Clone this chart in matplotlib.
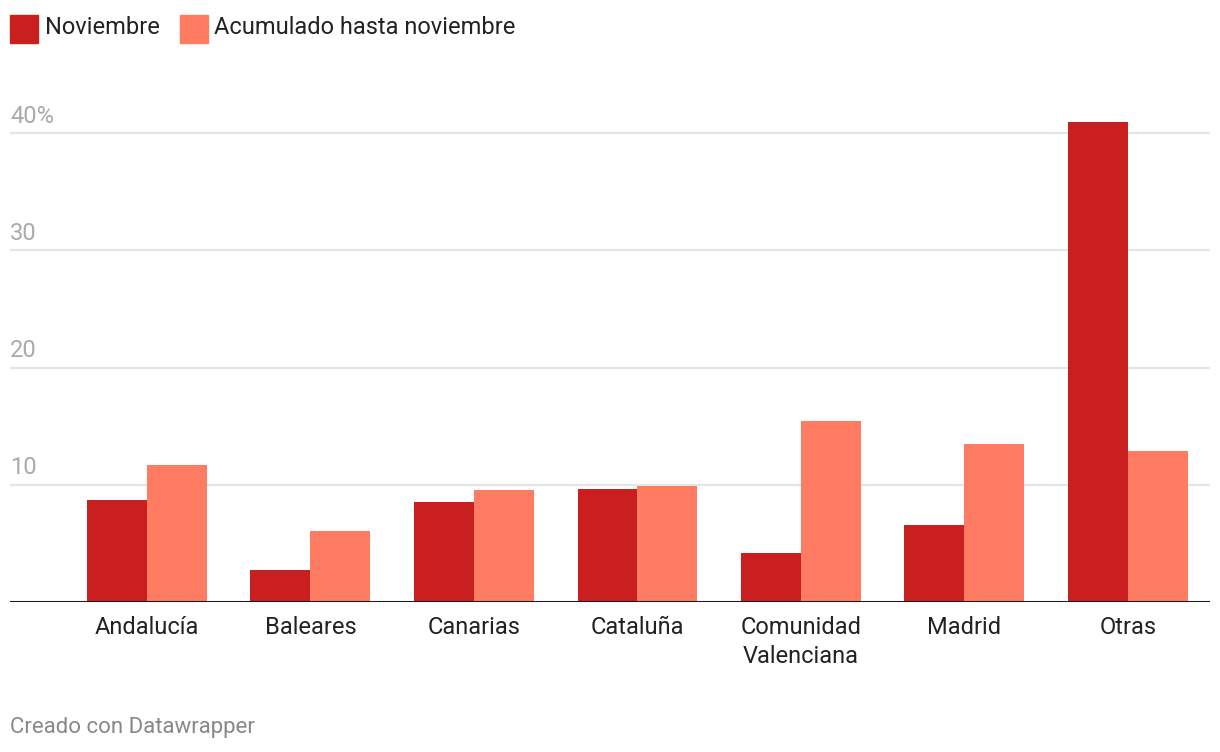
import matplotlib.pyplot as plt
import numpy as np

plt.rcParams['font.family'] = ['Roboto', 'DejaVu Sans']

categories = ["Andalucía", "Baleares", "Canarias", "Cataluña",
              "Comunidad\nValenciana", "Madrid", "Otras"]
noviembre = [8.67, 2.70, 8.50, 9.61, 4.15, 6.54, 40.9]
acumulado = [11.66, 6.03, 9.53, 9.87, 15.41, 13.45, 12.85]
ticks = [10, 20, 30, 40]
tick_labels = ["10", "20", "30", "40%"]

c_nov = "#c91f1f"
c_acu = "#ff7c63"

W, H = 1220, 752
fig = plt.figure(figsize=(W / 100, H / 100), dpi=100)

# axes: left x=10, right x=1210, baseline y=602, 11.725 px per unit
ymax = 42
ax = fig.add_axes([10 / W, (H - 602) / H, 1200 / W, ymax * 11.725 / H], frameon=False)
ax.set_ylim(0, ymax)
spacing = 163.5
ax.set_xlim((10 - 147) / spacing, (1210 - 147) / spacing)

x = np.arange(len(categories))
bw = 60 / spacing
ax.bar(x - bw / 2, noviembre, bw, color=c_nov, zorder=3)
ax.bar(x + bw / 2, acumulado, bw, color=c_acu, zorder=3)

for t, lab in zip(ticks, tick_labels):
    ax.axhline(t, color="#e5e5e5", lw=1.5, zorder=1)
    ax.text(0, t + 0.45, lab, transform=ax.get_yaxis_transform(), ha="left", va="bottom",
            color="#aaaaaa", fontsize=17)
ax.axhline(0, color="#1a1a1a", lw=2.2, zorder=4)

ax.set_xticks([])
ax.set_yticks([])
for xi, cat in zip(x, categories):
    ax.text(xi, -1.2, cat, ha="center", va="top", fontsize=17, color="#222222",
            linespacing=1.32)

# legend
fig.patches.append(plt.Rectangle((10 / W, 1 - 43 / H), 28 / W, 28 / H,
                                 transform=fig.transFigure, color=c_nov))
fig.text(45 / W, 1 - 27 / H, "Noviembre", fontsize=17, va="center", color="#222222")
fig.patches.append(plt.Rectangle((180 / W, 1 - 43 / H), 28 / W, 28 / H,
                                 transform=fig.transFigure, color=c_acu))
fig.text(214 / W, 1 - 27 / H, "Acumulado hasta noviembre", fontsize=17, va="center",
         color="#222222")

fig.text(10 / W, 1 - 728 / H, "Creado con Datawrapper", fontsize=16, va="center",
         color="#888888")

fig.savefig("out.png", dpi=100, facecolor="white")
